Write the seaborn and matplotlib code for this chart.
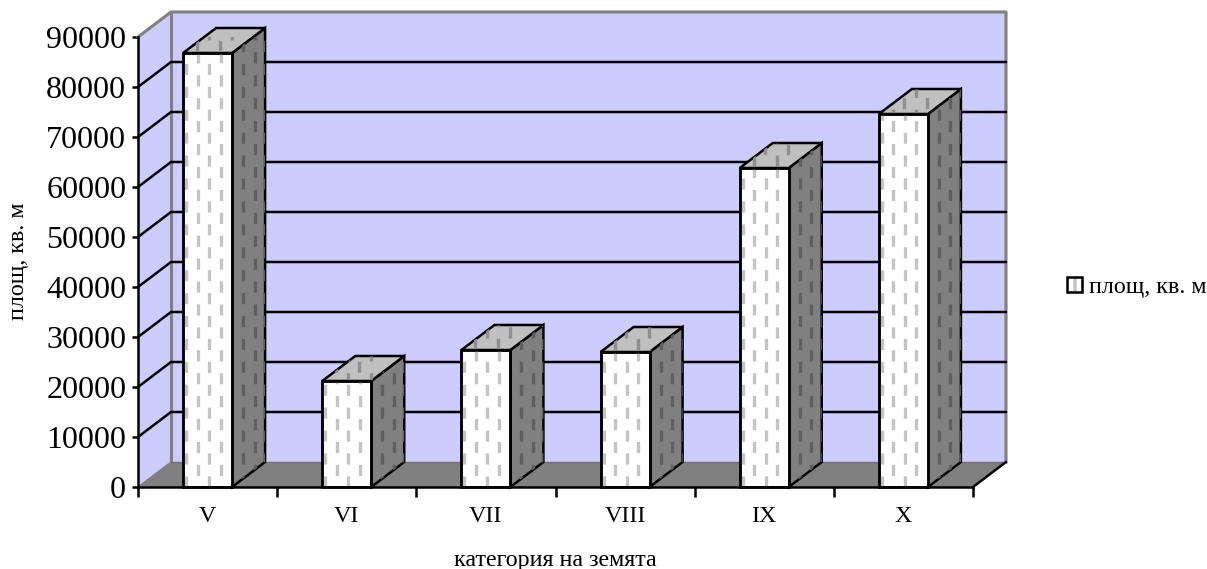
import matplotlib
matplotlib.use("Agg")
import matplotlib.pyplot as plt
from matplotlib.patches import Polygon, Patch
from matplotlib.legend_handler import HandlerTuple
import seaborn as sns

categories = ["V", "VI", "VII", "VIII", "IX", "X"]
values = [86800, 21200, 27400, 27000, 63800, 74600]
yticks = [0, 10000, 20000, 30000, 40000, 50000, 60000, 70000, 80000, 90000]
series_name = "площ, кв. м"
xlabel = "категория на земята"

sns.set_style("white")
plt.rcParams["font.family"] = ["Liberation Serif", "DejaVu Serif"]
plt.rcParams["lines.scale_dashes"] = False
plt.rcParams["hatch.linewidth"] = 2.5
plt.rcParams["text.color"] = "black"
plt.rcParams["axes.labelcolor"] = "black"
plt.rcParams["xtick.color"] = "black"
plt.rcParams["ytick.color"] = "black"

W, H = 1207, 569
LW = 1.8
fig = plt.figure(figsize=(W / 100, H / 100), dpi=100)
ax = fig.add_axes([138 / W, 1 - 487 / H, 835 / W, 450 / H])

sns.barplot(x=categories, y=values, color="white", saturation=1, width=0.352,
            edgecolor="black", linewidth=LW, ax=ax, zorder=5)
ax.set_xlim(-0.5, 5.5)
ax.set_ylim(0, 90000)

# depth of the fake 3d in data units
px_x = 6 / 835
dx = 33 * px_x
dy = 5000
x0, x1 = -0.5, 5.5
ymax = 90000


def poly(pts, fc, ec="none", lw=0, z=1):
    p = Polygon(pts, closed=True, facecolor=fc, edgecolor=ec, linewidth=lw,
                zorder=z, clip_on=False, joinstyle="miter")
    ax.add_patch(p)
    return p


# walls and floor
poly([(x0 + dx, dy), (x1 + dx, dy), (x1 + dx, ymax + dy), (x0 + dx, ymax + dy)], "#ccccff")
poly([(x0, 0), (x0 + dx, dy), (x0 + dx, ymax + dy), (x0, ymax)], "#ccccff")
poly([(x0, 0), (x1, 0), (x1 + dx, dy), (x0 + dx, dy)], "#808080")

gray = dict(color="#808080", lw=2.2, clip_on=False, zorder=2, solid_capstyle="projecting")
ax.plot([x0, x0 + dx, x1 + dx, x1 + dx], [ymax, ymax + dy, ymax + dy, dy], **gray)
ax.plot([x0 + dx, x0 + dx], [dy, ymax + dy], **gray)
ax.plot([x0, x0 + dx], [0, dy], color="#808080", lw=1, clip_on=False, zorder=2)
ax.plot([x0 + dx, x1 + dx], [dy, dy], color="#707070", lw=1, clip_on=False, zorder=2)

# gridlines across side and back wall
for t in yticks[1:-1]:
    ax.plot([x0, x0 + dx, x1 + dx], [t, t + dy, t + dy], color="black", lw=LW,
            clip_on=False, zorder=3, solid_joinstyle="miter")
ax.plot([x1, x1 + dx], [0, dy], color="black", lw=LW, clip_on=False, zorder=3)


def dashes(xs, y_hi, color, clip, lw=2.4):
    # staggered dashed columns of the bar fill
    for i, xc in enumerate(xs):
        off = 0 if i % 2 == 0 else 8.2
        line, = ax.plot([xc, xc], [0, y_hi], color=color, lw=lw,
                        linestyle=(off, (8, 8.5)), dash_capstyle="butt",
                        zorder=clip.get_zorder() + 0.1, clip_on=True)
        line.set_clip_path(clip)


for bar in list(ax.patches):
    if bar.get_zorder() != 5:
        continue
    bx0, bx1 = bar.get_x(), bar.get_x() + bar.get_width()
    v = bar.get_height()
    step = 11.5 * px_x
    side = poly([(bx1, 0), (bx1 + dx, dy), (bx1 + dx, v + dy), (bx1, v)], "#808080", "black", LW, 4)
    top = poly([(bx0, v), (bx1, v), (bx1 + dx, v + dy), (bx0 + dx, v + dy)], "#c0c0c0", "black", LW, 4)
    dashes([bx1 + 11 * px_x + i * step for i in range(2)] + [bx1 + 33 * px_x], v + dy, "#5f5f5f", side)
    dashes([bx0 + 14 * px_x + i * step for i in range(4)], v + dy, "#8f8f8f", top)
    front = poly([(bx0, 0), (bx1, 0), (bx1, v), (bx0, v)], "none", "none", 0, 5)
    dashes([bx0 + 3 * px_x + i * step for i in range(4)], v, "#c4c4c4", front)
    # outline again over the dashes
    poly([(bx0, 0), (bx1, 0), (bx1, v), (bx0, v)], "none", "black", LW, 6)

# axes
sns.despine(ax=ax)
ax.set_facecolor("none")
for s in ("left", "bottom"):
    ax.spines[s].set_linewidth(LW)
    ax.spines[s].set_color("black")
    ax.spines[s].set_zorder(7)
ax.set_yticks(yticks)
ax.tick_params(axis="y", length=4.5, width=LW, labelsize=23, pad=4, left=True)
ax.set_xticks(range(len(categories)))
ax.set_xticklabels(categories)
ax.set_xticks([i - 0.5 for i in range(len(categories) + 1)], minor=True)
ax.tick_params(axis="x", which="major", length=0, labelsize=17.3, pad=13.5)
ax.tick_params(axis="x", which="minor", length=7, width=LW, bottom=True)
ax.set_xlabel(xlabel, fontsize=17.3, labelpad=17)
ax.set_ylabel("")
fig.text(19 / W, 1 - 261 / H, series_name, rotation=90, fontsize=17.3, ha="center", va="center")

# legend key: light dashed fill with a black outline on top
fill = Patch(facecolor="white", edgecolor="#c4c4c4", hatch="|")
outline = Patch(facecolor="none", edgecolor="black", linewidth=LW)
fig.legend(handles=[(fill, outline)], labels=[series_name], loc="center left",
           handler_map={tuple: HandlerTuple(ndivide=1, pad=0)},
           bbox_to_anchor=(1067 / W, 1 - 287.5 / H), frameon=False, fontsize=17.3,
           handlelength=0.62, handleheight=0.62, handletextpad=0.28, borderpad=0, borderaxespad=0)

fig.savefig("out.png", dpi=100)
